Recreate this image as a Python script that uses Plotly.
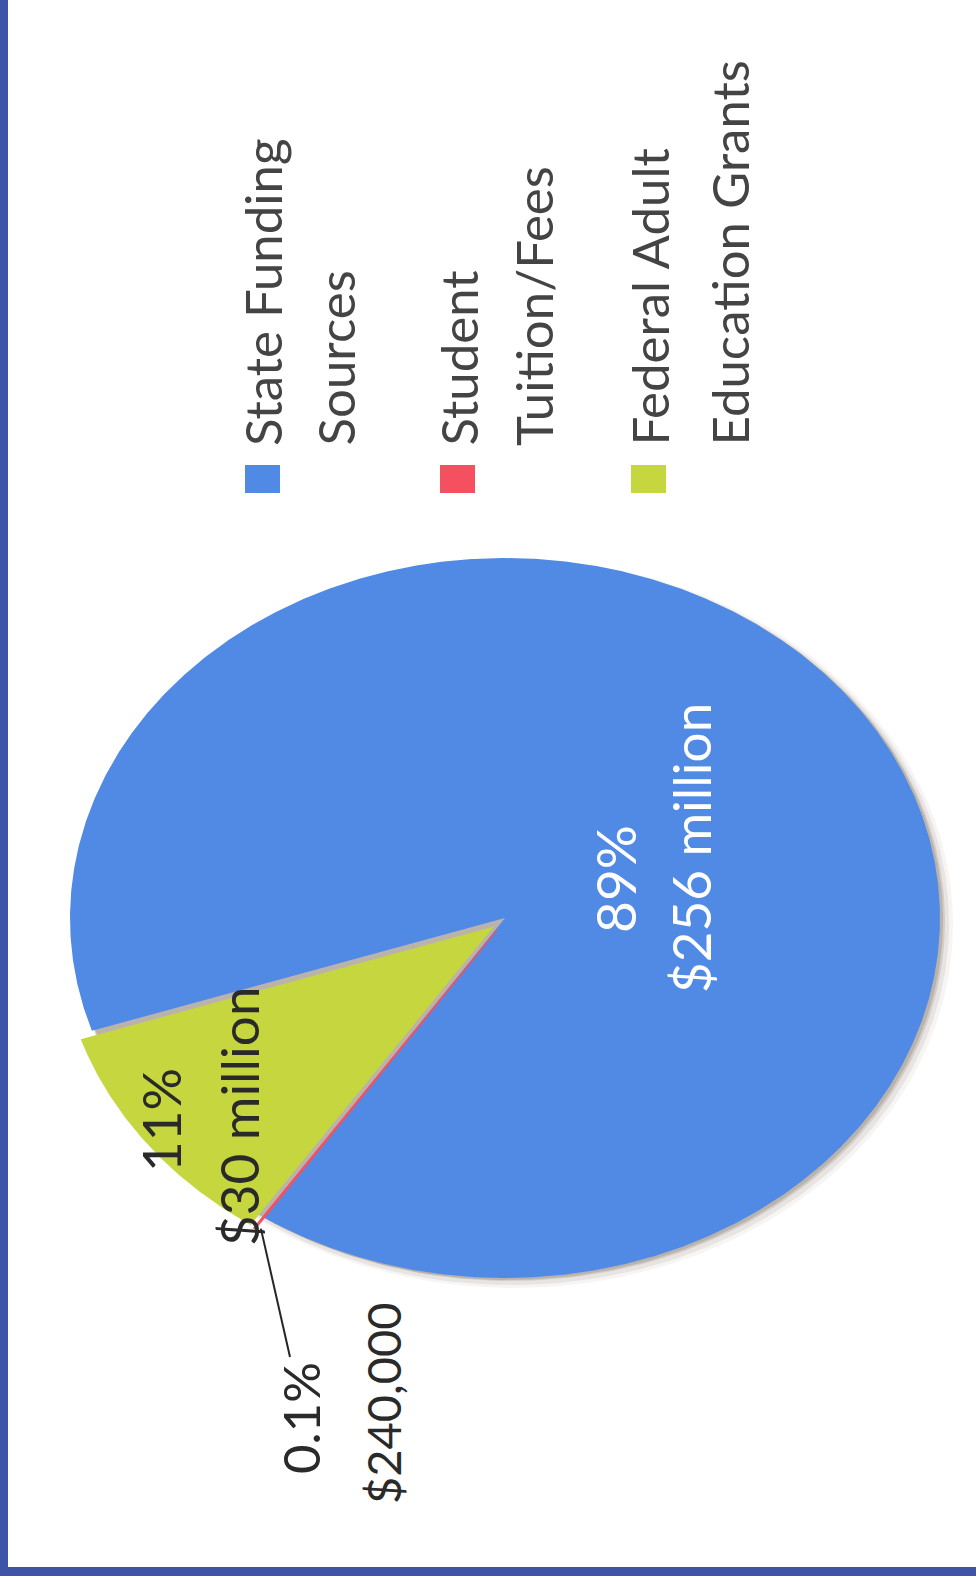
import numpy as np
import plotly.graph_objects as go

# Adult education funding by source (USD millions)
sources = ["State Funding Sources", "Student Tuition/Fees", "Federal Adult Education Grants"]
amounts_musd = [256.0, 0.24, 30.0]
pct_text = ["89%", "0.1%", "11%"]
amount_text = ["$256 million", "$240,000", "$30 million"]
legend_lines = [["State Funding", "Sources"],
                ["Student", "Tuition/Fees"],
                ["Federal Adult", "Education Grants"]]

slice_colors = ["#508ae5", "#f4505f", "#c5d63f"]
W, H = 976, 1576

# Elliptical pie geometry (pixel space, y grows downward)
CX, CY = 505, 918
RX, RY = 435, 360
START_DEG = 123.7          # first slice edge, clockwise on screen
draw_order = [1, 2, 0]     # tuition, federal, state
explode_px = {1: 14, 2: 14, 0: 0}

total = sum(amounts_musd)
spans = {}
a = START_DEG
for i in draw_order:
    s = amounts_musd[i] / total * 360.0
    spans[i] = (a, a + s)
    a += s


def offset_for(i):
    a0, a1 = spans[i]
    m = np.radians((a0 + a1) / 2)
    d = explode_px[i]
    return d * np.cos(m), d * np.sin(m)


def slice_path(i):
    a0, a1 = spans[i]
    ox, oy = offset_for(i)
    n = max(int(abs(a1 - a0) * 3), 4)
    t = np.radians(np.linspace(a0, a1, n))
    xs = np.concatenate([[CX + ox], CX + ox + RX * np.cos(t), [CX + ox]])
    ys = np.concatenate([[CY + oy], CY + oy + RY * np.sin(t), [CY + oy]])
    return xs, ys


fig = go.Figure()

# soft drop shadow behind the pie, strongest toward the lower right
tt = np.radians(np.linspace(0, 360, 361))
for (dx, dy, k, alpha) in [(9, 6, 4, 0.06), (7, 5, 2, 0.10), (5, 3, 0, 0.16), (3, 2, 0, 0.20)]:
    fig.add_trace(go.Scatter(
        x=CX + dx + (RX + k) * np.cos(tt), y=CY + dy + (RY + k) * np.sin(tt),
        fill="toself", fillcolor=f"rgba(95,80,65,{alpha})",
        line=dict(width=0), mode="lines", hoverinfo="skip", showlegend=False))

for i in [0, 2, 1]:
    xs, ys = slice_path(i)
    lw = 1.5 if i == 1 else 0
    fig.add_trace(go.Scatter(
        x=xs, y=ys, fill="toself", fillcolor=slice_colors[i],
        line=dict(width=lw, color=slice_colors[i]), mode="lines",
        name=sources[i], hoverinfo="name", showlegend=False))

# leader line for the tiny tuition slice
a0, a1 = spans[1]
mr = np.radians((a0 + a1) / 2)
ox, oy = offset_for(1)
lx0 = CX + ox + RX * np.cos(mr)
ly0 = CY + oy + RY * np.sin(mr)
fig.add_shape(type="line", x0=lx0 + 6, y0=ly0, x1=290, y1=1357,
              line=dict(color="#262626", width=2))

annotations = []
label_font = "Lato, 'Open Sans', sans-serif"
dark = "#2a2a2a"

# in-slice and outside data labels
annotations += [
    dict(x=615, y=879, text=pct_text[0], font=dict(family=label_font, size=55, color="white")),
    dict(x=690, y=848, text=amount_text[0], font=dict(family=label_font, size=53, color="white")),
    dict(x=160, y=1120, text=pct_text[2], font=dict(family=label_font, size=53, color=dark)),
    dict(x=238, y=1117, text=amount_text[2], font=dict(family=label_font, size=53, color=dark)),
    dict(x=300, y=1418, text=pct_text[1], font=dict(family=label_font, size=51, color=dark)),
    dict(x=383, y=1403, text=amount_text[1], font=dict(family=label_font, size=47, color=dark)),
]
for an in annotations:
    an.update(xref="x", yref="y", showarrow=False, textangle=-90,
              xanchor="center", yanchor="middle")

# legend drawn as rotated text with colour swatches
legend_line_x = [[262, 335], [458, 533], [649, 729]]
legend_swatch_x = [245, 440, 631]
for k in range(3):
    fig.add_shape(type="rect", x0=legend_swatch_x[k], x1=legend_swatch_x[k] + 35,
                  y0=465, y1=493, fillcolor=slice_colors[k], line=dict(width=0))
    for j, line in enumerate(legend_lines[k]):
        annotations.append(dict(
            x=legend_line_x[k][j], y=448, text=line, xref="x", yref="y",
            showarrow=False, textangle=-90, xanchor="center", yanchor="bottom",
            font=dict(family=label_font, size=51, color="#444444")))

# page frame
fig.add_shape(type="rect", x0=0, x1=8, y0=0, y1=H, fillcolor="#3e55a7", line=dict(width=0))
fig.add_shape(type="rect", x0=0, x1=W, y0=1567, y1=H, fillcolor="#3e55a7", line=dict(width=0))

fig.update_layout(
    width=W, height=H, margin=dict(l=0, r=0, t=0, b=0),
    paper_bgcolor="white", plot_bgcolor="white",
    xaxis=dict(range=[0, W], visible=False, fixedrange=True),
    yaxis=dict(range=[H, 0], visible=False, fixedrange=True),
    annotations=annotations, showlegend=False,
)

fig.write_html("out.html")
